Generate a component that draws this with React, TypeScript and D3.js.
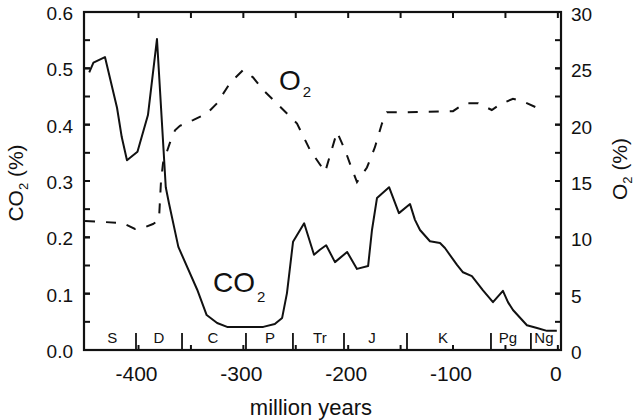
import React from 'react';
import * as d3 from 'd3';

// CO2 (%) vs age (million years, negative = past)
const co2Age = [-447, -443, -432, -420.5, -416, -411, -401, -391, -382.4, -374, -371, -362, -344, -335, -325, -315.5, -281, -270, -263, -258.4, -252.6, -242, -232.6, -227, -221, -212.6, -201, -191.6, -181, -177.3, -172.5, -161, -151.6, -141, -136.3, -131.5, -122, -112.4, -107.7, -96.2, -90.5, -82, -71.4, -61.9, -52.4, -47.6, -42.8, -29.5, -19.9, -10.4, -1];
const co2Pct = [0.493, 0.51, 0.52, 0.43, 0.378, 0.337, 0.352, 0.417, 0.552, 0.289, 0.261, 0.183, 0.107, 0.062, 0.048, 0.041, 0.041, 0.046, 0.057, 0.101, 0.192, 0.225, 0.169, 0.178, 0.186, 0.156, 0.174, 0.144, 0.149, 0.213, 0.27, 0.289, 0.243, 0.259, 0.231, 0.213, 0.193, 0.19, 0.181, 0.151, 0.138, 0.131, 0.106, 0.085, 0.105, 0.085, 0.071, 0.044, 0.039, 0.034, 0.034];

// O2 (%) vs age
const o2Age = [-451, -415, -403.4, -395.7, -386.2, -380.5, -378.6, -376.6, -370, -365.2, -360.5, -348, -334.7, -325.1, -312.7, -300.3, -290.8, -281.3, -265, -248.8, -236.4, -222, -210.7, -203, -197, -191.6, -182.1, -174.5, -167.8, -163, -147.7, -100, -88.6, -76, -63, -55.2, -42.8, -34.2, -19.9, -11.3];
const o2Pct = [11.45, 11.27, 10.74, 10.83, 11.18, 11.54, 14.9, 16.6, 18.4, 19.5, 19.9, 20.4, 21.0, 21.9, 23.7, 24.85, 24.2, 23.1, 21.6, 20.1, 17.75, 15.8, 19.35, 17.75, 16.2, 14.9, 16.2, 18.0, 20.1, 21.1, 21.1, 21.2, 21.9, 21.9, 21.3, 21.8, 22.3, 22.1, 21.5, 21.4];

// geologic periods
const periodNames = ['S', 'D', 'C', 'P', 'Tr', 'J', 'K', 'Pg', 'Ng'];
const periodLabelAge = [-425, -380.5, -329, -274.6, -227, -177.3, -109.6, -47.6, -13.3];
const periodBounds = [-402.4, -358.5, -297.5, -252.7, -204, -143.9, -63.8, -25.7];

// axes
const xTicks = [-400, -350, -300, -250, -200, -150, -100, -50, 0];
const xTickLabels = [-400, -300, -200, -100, 0];
const co2Ticks = [0, 0.1, 0.2, 0.3, 0.4, 0.5, 0.6];
const o2Ticks = [0, 5, 10, 15, 20, 25, 30];

const W = 638;
const H = 420;
const FONT = "'Liberation Sans', Arial, Helvetica, sans-serif";

export default function App() {
    const left = 84, right = 561, top = 12, bottom = 350;
    const x = d3.scaleLinear().domain([-452, 3]).range([left, right]);
    const yCo2 = d3.scaleLinear().domain([0, 0.6]).range([bottom, top]);
    const yO2 = d3.scaleLinear().domain([0, 30]).range([bottom, top]);

    const co2Line = d3.line<number>().x((_, i) => x(co2Age[i])).y(d => yCo2(d));
    const o2Line = d3.line<number>().x((_, i) => x(o2Age[i])).y(d => yO2(d));

    const co2Minor = d3.range(0.05, 0.6, 0.05);
    const o2Minor = d3.range(2.5, 30, 2.5);
    const tk = 6;

    return (
        <div style={{ position: 'absolute', left: 0, top: 0 }}>
            <svg width={W} height={H} style={{ display: 'block', background: '#fff' }} fontFamily={FONT}>
                {/* series */}
                <path d={o2Line(o2Pct) || ''} fill="none" stroke="#111" strokeWidth={2} strokeDasharray="10,11" />
                <path d={co2Line(co2Pct) || ''} fill="none" stroke="#111" strokeWidth={2} strokeLinejoin="round" />

                {/* left ticks */}
                {co2Minor.map(v => (
                    <line key={'lm' + v} x1={left} x2={left + tk} y1={yCo2(v)} y2={yCo2(v)} stroke="#111" strokeWidth={2} />
                ))}
                {co2Ticks.map(v => (
                    <g key={'l' + v}>
                        <line x1={left} x2={left + tk} y1={yCo2(v)} y2={yCo2(v)} stroke="#111" strokeWidth={2} />
                        <text x={left - 11} y={yCo2(v) + 8} textAnchor="end" fontSize={19} fill="#111">{v.toFixed(1)}</text>
                    </g>
                ))}

                {/* right ticks */}
                {o2Minor.map(v => (
                    <line key={'rm' + v} x1={right - tk} x2={right} y1={yO2(v)} y2={yO2(v)} stroke="#111" strokeWidth={2} />
                ))}
                {o2Ticks.map(v => (
                    <g key={'r' + v}>
                        <line x1={right - tk} x2={right} y1={yO2(v)} y2={yO2(v)} stroke="#111" strokeWidth={2} />
                        <text x={right + 10} y={yO2(v) + 9} textAnchor="start" fontSize={19} fill="#111">{v}</text>
                    </g>
                ))}

                {/* top & bottom ticks */}
                {xTicks.map(v => (
                    <g key={'x' + v}>
                        <line x1={x(v)} x2={x(v)} y1={top} y2={top + tk} stroke="#111" strokeWidth={2} />
                        <line x1={x(v)} x2={x(v)} y1={bottom} y2={bottom - 5} stroke="#111" strokeWidth={2} />
                    </g>
                ))}
                {xTickLabels.map(v => (
                    <text key={'xl' + v} x={x(v) - 2} y={381} textAnchor="middle" fontSize={21} fill="#111">{v}</text>
                ))}

                {/* period boundaries and names */}
                {periodBounds.map(v => (
                    <line key={'pb' + v} x1={x(v)} x2={x(v)} y1={bottom} y2={bottom - 17} stroke="#111" strokeWidth={1.8} />
                ))}
                {periodNames.map((n, i) => (
                    <text key={n} x={x(periodLabelAge[i])} y={343} textAnchor="middle" fontSize={15} fill="#111">{n}</text>
                ))}

                {/* frame */}
                <rect x={left} y={top} width={right - left} height={bottom - top} fill="none" stroke="#111" strokeWidth={2.2} />

                {/* series annotations */}
                <text x={213} y={292} fontSize={28} fill="#111">CO<tspan dx={2} dy={10} fontSize={15}>2</tspan></text>
                <text x={279} y={90} fontSize={28} fill="#111">O<tspan dx={2} dy={7} fontSize={15}>2</tspan></text>

                {/* axis titles */}
                <text transform="translate(23,183) rotate(-90)" textAnchor="middle" fontSize={21} fill="#111">
                    CO<tspan dy={5} fontSize={13}>2</tspan><tspan dy={-5}> (%)</tspan>
                </text>
                <text transform="translate(627,169) rotate(-90)" textAnchor="middle" fontSize={21} fill="#111">
                    O<tspan dy={5} fontSize={13}>2</tspan><tspan dy={-5}> (%)</tspan>
                </text>
                <text x={311} y={415} textAnchor="middle" fontSize={22} fill="#111">million years</text>
            </svg>
        </div>
    );
}
